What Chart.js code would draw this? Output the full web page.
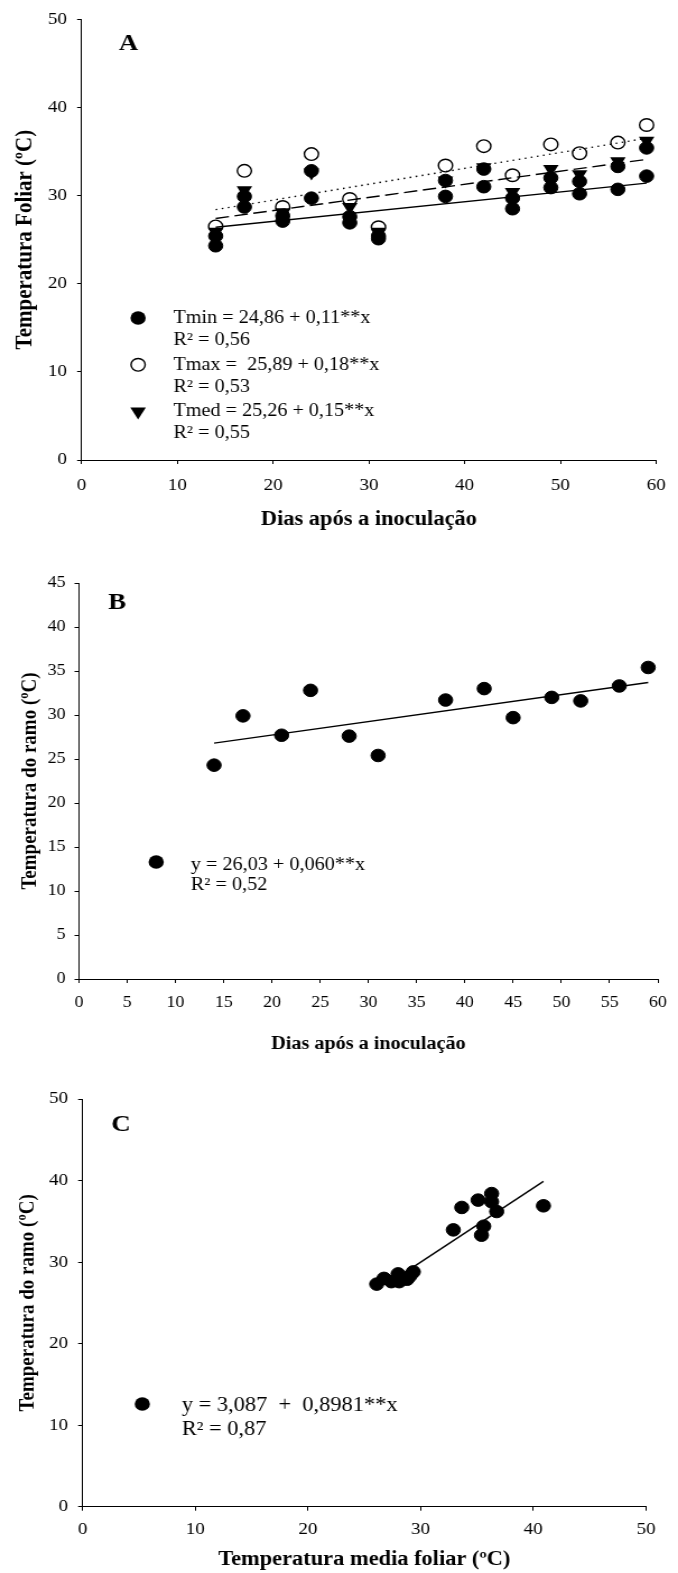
<!DOCTYPE html>
<html>
<head>
<meta charset="utf-8">
<script src="https://cdn.jsdelivr.net/npm/chart.js@4.4.1/dist/chart.umd.min.js"></script>
<style>
    body { margin: 0; background: #fff; overflow: hidden; }
    /* the original figure is a little wider than tall, so each panel is stretched sideways */
    .panel { position: absolute; left: 0; width: 605px; transform: scaleX(1.1207); transform-origin: 0 0; }
    #panelA { top: 0; height: 545px; }
    #panelB { top: 545px; height: 515px; }
    #panelC { top: 1060px; height: 513px; }
</style>
</head>
<body>
<div class="panel" id="panelA"><canvas id="chartA"></canvas></div>
<div class="panel" id="panelB"><canvas id="chartB"></canvas></div>
<div class="panel" id="panelC"><canvas id="chartC"></canvas></div>
<script>
// dias após a inoculação
const days = [14, 17, 21, 24, 28, 31, 38, 42, 45, 49, 52, 56, 59];
// temperatura foliar (A)
const tMin = [25.4, 28.7, 27.1, 29.7, 26.9, 25.1, 29.9, 31.0, 28.5, 30.9, 30.2, 30.7, 32.2];
const tMax = [26.5, 32.8, 28.7, 34.7, 29.6, 26.4, 33.4, 35.6, 32.3, 35.8, 34.8, 36.0, 38.0];
const tMed = [25.9, 30.6, 28.1, 32.6, 28.7, 25.9, 31.7, 33.2, 30.4, 33.0, 32.4, 33.9, 36.2];
// temperatura do ramo (A and B)
const tRamo = [24.3, 29.9, 27.7, 32.8, 27.6, 25.4, 31.7, 33.0, 29.7, 32.0, 31.6, 33.3, 35.4];

// trend lines, read at both ends
const fitDays = [14, 59];
const tMinFit = [26.4, 31.4];
const tMedFit = [27.4, 34.1];
const tMaxFit = [28.4, 36.5];
const ramoFit = [26.8, 33.7];

// C: temperatura media foliar vs ramo
const folMed = [26.1, 26.75, 27.4, 28.0, 28.1, 28.8, 29.05, 29.35, 32.9, 33.65, 35.1, 35.4, 35.6, 36.3, 36.3, 36.75, 40.9];
const ramoC = [27.3, 28.0, 27.6, 28.55, 27.6, 27.9, 28.3, 28.8, 33.95, 36.7, 37.6, 33.3, 34.4, 38.4, 37.4, 36.2, 36.9];
const folFitX = [29.4, 40.9];
const ramoFitC = [29.45, 39.9];

Chart.defaults.font.family = '"Liberation Serif", "Times New Roman", serif';
Chart.defaults.color = "#000";
Chart.defaults.animation = false;

const pts = (xs, ys) => xs.map((x, i) => ({ x: x, y: ys[i] }));

function drawMarker(ctx, style, px, py) {
    ctx.beginPath();
    if (style === "triangle") {
        const r = 8;
        ctx.moveTo(px - r * 0.866, py - r * 0.5);
        ctx.lineTo(px + r * 0.866, py - r * 0.5);
        ctx.lineTo(px, py + r);
        ctx.closePath();
        ctx.fillStyle = "#000";
        ctx.fill();
    } else if (style === "open") {
        ctx.arc(px, py, 6.3, 0, Math.PI * 2);
        ctx.fillStyle = "#fff";
        ctx.fill();
        ctx.lineWidth = 1.4;
        ctx.strokeStyle = "#000";
        ctx.stroke();
    } else {
        ctx.arc(px, py, 6.8, 0, Math.PI * 2);
        ctx.fillStyle = "#000";
        ctx.fill();
    }
}

// panel letter and the equations written inside the plot
const panelNotes = {
    id: "panelNotes",
    afterDatasetsDraw(chart, args, opts) {
        const { ctx } = chart;
        const x = chart.scales.x;
        const y = chart.scales.y;
        ctx.save();
        ctx.fillStyle = "#000";
        ctx.textBaseline = "middle";
        ctx.textAlign = "center";
        ctx.font = `bold ${opts.letterSize}px "Liberation Serif"`;
        ctx.fillText(opts.letter, x.getPixelForValue(opts.letterAt[0]), y.getPixelForValue(opts.letterAt[1]));

        opts.items.forEach(item => {
            const px = x.getPixelForValue(item.at[0]);
            const py = y.getPixelForValue(item.at[1]);
            drawMarker(ctx, item.style, px, py);
            ctx.fillStyle = "#000";
            ctx.textAlign = "left";
            ctx.font = `${opts.textSize}px "Liberation Serif"`;
            const tx = x.getPixelForValue(item.textX);
            item.lines.forEach((line, i) => {
                ctx.fillText(line, tx, py + opts.textDy + i * opts.lineGap);
            });
        });
        ctx.restore();
    }
};

function xAxis(min, max, step, title, o) {
    return {
        type: "linear",
        min: min,
        max: max,
        ticks: { stepSize: step, padding: o.tickPad, font: { size: o.tickSize }, color: "#000" },
        grid: { drawOnChartArea: false, drawTicks: true, tickLength: 4, color: "#000" },
        border: { color: "#000", width: 1 },
        title: {
            display: true,
            text: title,
            color: "#000",
            font: { size: o.titleSize, weight: "bold" },
            padding: { top: 0, bottom: o.titlePad }
        },
        afterFit: scale => { scale.height = o.height; }
    };
}

function yAxis(min, max, step, title, o) {
    return {
        type: "linear",
        min: min,
        max: max,
        ticks: { stepSize: step, padding: o.tickPad, font: { size: o.tickSize }, color: "#000" },
        grid: { drawOnChartArea: false, drawTicks: true, tickLength: 4, color: "#000" },
        border: { color: "#000", width: 1 },
        title: {
            display: true,
            text: title,
            color: "#000",
            font: { size: o.titleSize, weight: "bold" },
            padding: { top: o.titlePad, bottom: 0 }
        },
        afterFit: scale => { scale.width = o.width; }
    };
}

function dots(data, order) {
    return {
        data: data,
        pointStyle: "circle",
        pointRadius: 6.3,
        pointBorderWidth: 1,
        backgroundColor: "#000",
        borderColor: "#000",
        showLine: false,
        order: order
    };
}

function fitLine(data, dash) {
    return {
        data: data,
        showLine: true,
        pointRadius: 0,
        borderColor: "#000",
        borderWidth: 1.4,
        borderDash: dash,
        fill: false,
        order: 0
    };
}

function baseOptions(padding, scales, notes) {
    return {
        responsive: true,
        maintainAspectRatio: false,
        layout: { padding: padding },
        scales: scales,
        plugins: {
            legend: { display: false },
            tooltip: { enabled: false },
            panelNotes: notes
        }
    };
}

// A
new Chart(document.getElementById("chartA"), {
    type: "scatter",
    data: {
        datasets: [
            fitLine(pts(fitDays, tMinFit), []),
            fitLine(pts(fitDays, tMedFit), [12, 5]),
            fitLine(pts(fitDays, tMaxFit), [1.5, 4]),
            dots(pts(days, tMin), 1),
            dots(pts(days, tRamo), 1),
            {
                data: pts(days, tMed),
                pointStyle: "triangle",
                rotation: 180,
                pointRadius: 8,
                pointBorderWidth: 0,
                backgroundColor: "#000",
                borderColor: "#000",
                order: 2
            },
            {
                data: pts(days, tMax),
                pointStyle: "circle",
                pointRadius: 6.3,
                pointBorderWidth: 1.4,
                backgroundColor: "#fff",
                borderColor: "#000",
                order: 3
            }
        ]
    },
    options: baseOptions(
        { left: 0, right: 11.3, top: 14.7, bottom: 0 },
        {
            x: xAxis(0, 60, 10, "Dias após a inoculação",
                { tickPad: 11, tickSize: 17, titleSize: 20, titlePad: 13, height: 85 }),
            y: yAxis(0, 50, 10, "Temperatura Foliar (ºC)",
                { tickPad: 9, tickSize: 17, titleSize: 21, titlePad: 9.7, width: 72.8 })
        },
        {
            letter: "A", letterAt: [4.9, 47.2], letterSize: 24,
            textSize: 18, lineGap: 22, textDy: 0,
            items: [
                { style: "filled", at: [5.9, 16.1], textX: 9.6, lines: ["Tmin = 24,86 + 0,11**x", "R² = 0,56"] },
                { style: "open", at: [5.9, 10.8], textX: 9.6, lines: ["Tmax =  25,89 + 0,18**x", "R² = 0,53"] },
                { style: "triangle", at: [5.9, 5.5], textX: 9.6, lines: ["Tmed = 25,26 + 0,15**x", "R² = 0,55"] }
            ]
        }
    ),
    plugins: [panelNotes]
});

// B
new Chart(document.getElementById("chartB"), {
    type: "scatter",
    data: {
        datasets: [
            fitLine(pts(fitDays, ramoFit), []),
            dots(pts(days, tRamo), 1)
        ]
    },
    options: baseOptions(
        { left: 0, right: 13.8, top: 38, bottom: 0 },
        {
            x: xAxis(0, 60, 5, "Dias após a inoculação",
                { tickPad: 10, tickSize: 16, titleSize: 18, titlePad: 5.2, height: 81 }),
            y: yAxis(0, 45, 5, "Temperatura do ramo (ºC)",
                { tickPad: 8, tickSize: 16, titleSize: 19, titlePad: 15.4, width: 70.5 })
        },
        {
            letter: "B", letterAt: [3.96, 42.7], letterSize: 24,
            textSize: 18, lineGap: 20, textDy: 3,
            items: [
                { style: "filled", at: [8.0, 13.3], textX: 11.6, lines: ["y = 26,03 + 0,060**x", "R² = 0,52"] }
            ]
        }
    ),
    plugins: [panelNotes]
});

// C
new Chart(document.getElementById("chartC"), {
    type: "scatter",
    data: {
        datasets: [
            fitLine(pts(folFitX, ramoFitC), []),
            dots(pts(folMed, ramoC), 1)
        ]
    },
    options: baseOptions(
        { left: 0, right: 28.6, top: 39, bottom: 0 },
        {
            x: xAxis(0, 50, 10, "Temperatura media foliar (ºC)",
                { tickPad: 9, tickSize: 17, titleSize: 20, titlePad: 1, height: 66.3 }),
            y: yAxis(0, 50, 10, "Temperatura do ramo (ºC)",
                { tickPad: 9, tickSize: 17, titleSize: 19, titlePad: 13.6, width: 73.7 })
        },
        {
            letter: "C", letterAt: [3.4, 46.8], letterSize: 24,
            textSize: 20, lineGap: 24, textDy: 2,
            items: [
                { style: "filled", at: [5.3, 12.6], textX: 8.8, lines: ["y = 3,087  +  0,8981**x", "R² = 0,87"] }
            ]
        }
    ),
    plugins: [panelNotes]
});
</script>
</body>
</html>
